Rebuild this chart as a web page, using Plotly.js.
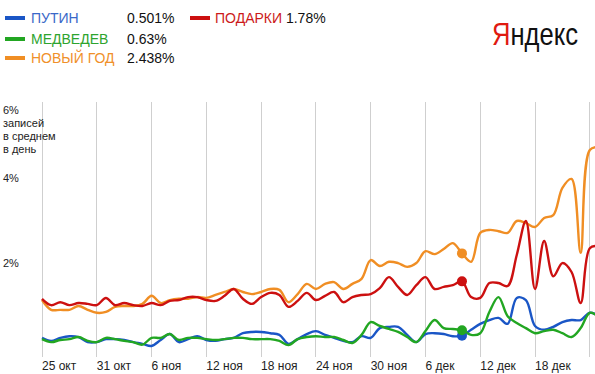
<!DOCTYPE html>
<html><head><meta charset="utf-8">
<script src="https://cdn.plot.ly/plotly-3.0.1.min.js"></script>
<style>html,body{margin:0;padding:0;background:#fff}#chart{width:595px;height:374px}</style>
</head><body><div id="chart"></div>
<script>
var dates = ["2010-10-25","2010-10-26","2010-10-27","2010-10-28","2010-10-29","2010-10-30","2010-10-31",
"2010-11-01","2010-11-02","2010-11-03","2010-11-04","2010-11-05","2010-11-06","2010-11-07","2010-11-08",
"2010-11-09","2010-11-10","2010-11-11","2010-11-12","2010-11-13","2010-11-14","2010-11-15","2010-11-16",
"2010-11-17","2010-11-18","2010-11-19","2010-11-20","2010-11-21","2010-11-22","2010-11-23","2010-11-24",
"2010-11-25","2010-11-26","2010-11-27","2010-11-28","2010-11-29","2010-11-30","2010-12-01","2010-12-02",
"2010-12-03","2010-12-04","2010-12-05","2010-12-06","2010-12-07","2010-12-08","2010-12-09","2010-12-10",
"2010-12-11","2010-12-12","2010-12-13","2010-12-14","2010-12-15","2010-12-16","2010-12-17","2010-12-18",
"2010-12-19","2010-12-20","2010-12-21","2010-12-22","2010-12-23","2010-12-24","2010-12-25"];

var putin = [0.45,0.38,0.45,0.49,0.47,0.35,0.35,0.42,0.42,0.40,0.35,0.31,0.26,0.40,0.54,0.35,0.42,0.49,0.40,0.38,
0.42,0.45,0.56,0.59,0.59,0.56,0.52,0.31,0.42,0.54,0.61,0.52,0.45,0.38,0.35,0.49,0.45,0.68,0.71,0.71,
0.52,0.35,0.54,0.56,0.54,0.49,0.501,0.64,0.78,0.87,0.92,0.78,1.39,1.34,0.73,0.64,0.71,0.82,0.87,0.87,1.04,0.97];

var medvedev = [0.42,0.35,0.40,0.42,0.47,0.38,0.35,0.45,0.42,0.38,0.35,0.29,0.45,0.45,0.54,0.40,0.45,0.45,0.42,0.40,
0.42,0.45,0.45,0.42,0.42,0.42,0.38,0.28,0.42,0.47,0.49,0.47,0.47,0.40,0.33,0.52,0.82,0.73,0.66,0.59,
0.47,0.35,0.61,0.87,0.68,0.66,0.63,0.52,0.56,1.06,1.41,0.96,0.80,0.68,0.56,0.61,0.64,0.56,0.47,0.68,1.04,0.94];

var novyGod = [1.34,1.11,1.11,1.11,1.20,1.11,1.04,1.06,1.18,1.20,1.20,1.25,1.44,1.27,1.34,1.37,1.37,1.41,1.39,1.46,
1.53,1.60,1.53,1.48,1.53,1.60,1.58,1.29,1.48,1.72,1.60,1.72,1.76,1.60,1.72,1.84,2.28,2.14,2.24,2.21,
2.12,2.21,2.49,2.42,2.54,2.68,2.438,2.24,2.92,2.99,2.96,2.92,3.20,3.15,3.06,3.27,3.34,3.98,4.19,2.45,4.87,4.94];

var podarki = [1.37,1.22,1.29,1.22,1.27,1.25,1.22,1.39,1.22,1.27,1.22,1.20,1.27,1.22,1.32,1.34,1.41,1.41,1.34,1.32,
1.44,1.60,1.37,1.25,1.41,1.51,1.46,1.18,1.32,1.51,1.34,1.44,1.53,1.29,1.41,1.46,1.48,1.62,1.88,1.65,
1.46,1.69,1.88,1.60,1.65,1.69,1.78,1.41,1.39,1.74,1.74,1.67,2.40,3.20,1.60,2.73,1.90,2.21,2.00,1.27,2.56,2.61];

var tickDates = ["2010-10-25","2010-10-31","2010-11-06","2010-11-12","2010-11-18","2010-11-24",
"2010-11-30","2010-12-06","2010-12-12","2010-12-18","2010-12-24"];
var tickLabels = ["25 окт","31 окт","6 ноя","12 ноя","18 ноя","24 ноя","30 ноя","6 дек","12 дек","18 дек",""];

var names = ["ПУТИН","МЕДВЕДЕВ","НОВЫЙ ГОД","ПОДАРКИ"];
var colors = ["#1a56c6","#22a622","#f08e24","#cc1010"];
var textColors = ["#3a68c8","#2ea42e","#f0902a","#cc1a1a"];
var current = ["0.501%","0.63%","2.438%","1.78%"];
var markIdx = 46;

var series = [putin, medvedev, novyGod, podarki];
var traces = [];
series.forEach(function(s, i){
  traces.push({x: dates, y: s, type: 'scatter', mode: 'lines',
    line: {color: colors[i], width: 2.4, shape: 'spline', smoothing: 1},
    hoverinfo: 'skip', showlegend: false});
});
series.forEach(function(s, i){
  traces.push({x: [dates[markIdx]], y: [s[markIdx]], type: 'scatter', mode: 'markers',
    marker: {color: colors[i], size: 10}, hoverinfo: 'skip', showlegend: false, cliponaxis: false});
});

var F = "Liberation Sans, Arial, sans-serif";
var annotations = [];
var shapes = [];
var legendPos = [
  {sx: 5, y: 18, tx: 29, vx: 125},
  {sx: 5, y: 39, tx: 29, vx: 125},
  {sx: 5, y: 58, tx: 29, vx: 125},
  {sx: 190, y: 18, tx: 213, vx: null}
];
legendPos.forEach(function(p, i){
  shapes.push({type: 'line', xref: 'paper', yref: 'paper',
    x0: (p.sx - 40)/555, x1: (p.sx - 40 + 20)/555,
    y0: (357 - p.y)/255, y1: (357 - p.y)/255,
    line: {color: colors[i], width: 4}});
  var txt = p.vx === null ? names[i] + ' <span style="color:#111">' + current[i] + '</span>' : names[i];
  annotations.push({xref: 'paper', yref: 'paper', x: (p.tx - 40)/555, y: (357 - p.y)/255,
    xanchor: 'left', yanchor: 'middle', showarrow: false, text: txt,
    font: {family: F, size: 14, color: textColors[i]}});
  if(p.vx !== null){
    annotations.push({xref: 'paper', yref: 'paper', x: (p.vx - 40)/555, y: (357 - p.y)/255,
      xanchor: 'left', yanchor: 'middle', showarrow: false, text: current[i],
      font: {family: F, size: 14, color: '#111'}});
  }
});
var yLab = [
  {t: "6%", y: 110}, {t: "записей", y: 123}, {t: "в среднем", y: 136}, {t: "в день", y: 149},
  {t: "4%", y: 178}, {t: "2%", y: 263}
];
yLab.forEach(function(l){
  annotations.push({xref: 'paper', yref: 'paper', x: (1 - 40)/555, y: (357 - l.y)/255,
    xanchor: 'left', yanchor: 'middle', showarrow: false, text: l.t,
    font: {family: F, size: 11, color: '#222'}});
});
annotations.push({xref: 'paper', yref: 'paper', x: (490 - 40)/555, y: (357 - 34)/255,
  xanchor: 'left', yanchor: 'middle', showarrow: false,
  text: '<span style="color:#e01a10">Я</span>ндекс',
  font: {family: F, size: 32, color: '#111'}});

var layout = {
  width: 595, height: 374,
  margin: {l: 40, r: 0, t: 102, b: 17, pad: 0},
  paper_bgcolor: '#fff', plot_bgcolor: '#fff',
  showlegend: false,
  xaxis: {type: 'date', range: ["2010-10-24 18:45", "2010-12-24 13:40"],
    tickvals: tickDates, ticktext: tickLabels, showgrid: true, gridcolor: '#cfcfcf', gridwidth: 1,
    ticks: '', showline: false, zeroline: false, ticklabelposition: 'outside right',
    tickfont: {family: F, size: 12, color: '#222'}},
  yaxis: {range: [0, 6], showgrid: false, zeroline: false, showticklabels: false, showline: false, fixedrange: true},
  annotations: annotations, shapes: shapes
};
Plotly.newPlot('chart', traces, layout, {displayModeBar: false, staticPlot: true}).then(function(){
  // condense the logo text horizontally to match the narrow wordmark
  var els = document.querySelectorAll('.annotation-text');
  els.forEach(function(el){
    if(el.textContent.indexOf('ндекс') >= 0){
      var bb = el.getBBox();
      var sx = 86 / bb.width;
      var prev = el.getAttribute('transform') || '';
      el.setAttribute('transform', prev + ' translate(' + (bb.x * (1 - sx)) + ',0) scale(' + sx + ',1)');
    }
  });
});
</script></body></html>
